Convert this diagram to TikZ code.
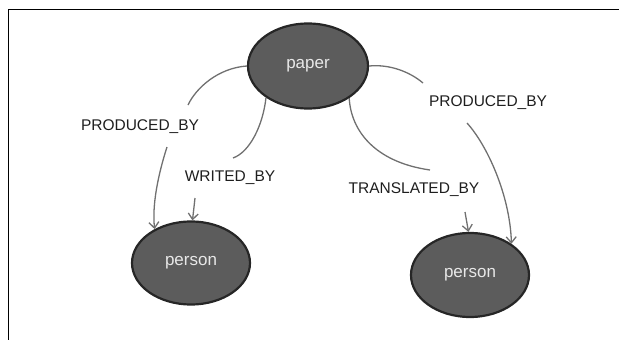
\documentclass[tikz,border=0pt]{standalone}
\usepackage{fontspec}
\setmainfont{Liberation Sans}
\usetikzlibrary{arrows.meta,shapes.geometric}

\definecolor{nodefill}{RGB}{92,92,92}
\definecolor{nodeline}{RGB}{38,38,38}
\definecolor{nodetext}{RGB}{232,232,232}
\definecolor{edgegray}{RGB}{112,112,112}
\definecolor{labeltext}{RGB}{30,30,30}

\tikzset{
    entity/.style={ellipse, fill=nodefill, draw=nodeline, line width=2.2pt,
        text=nodetext, font=\fontsize{17}{20}\selectfont,
        minimum width=118pt, minimum height=83pt, inner sep=0pt},
    relname/.style={text=labeltext, font=\fontsize{15.5}{18}\selectfont, inner sep=1pt},
    edge/.style={draw=edgegray, line width=1.3pt},
    arrowedge/.style={edge, -{Straight Barb[length=6pt,width=10pt]}}
}

\begin{document}
\begin{tikzpicture}[x=1pt, y=-1pt]
                    % Picture area and frame lines
                    \useasboundingbox (0,0) rectangle (619,340);
                    \draw[line width=1.5pt, black] (619,9.5) -| (8.7,340);

                    % Entities
                    \node[entity, minimum width=120pt, minimum height=85pt] (paper) at (308,66) {paper};
                    \node[entity] (personL) at (191,263) {person};
                    \node[entity, minimum height=84pt] (personR) at (470,275) {person};

                    % Relation labels
                    \node[relname] (producedL) at (140,127) {PRODUCED\_BY};
                    \node[relname] (writed) at (230,178) {WRITED\_BY};
                    \node[relname] (translated) at (414,190) {TRANSLATED\_BY};
                    \node[relname] (producedR) at (488,103) {PRODUCED\_BY};

                    % Ends of the edges next to the labels
                    \coordinate (producedLin) at (188,105);
                    \coordinate (producedLout) at (167,147);
                    \coordinate (writedin) at (233,158);
                    \coordinate (writedout) at (195,198);
                    \coordinate (translatedin) at (430,170);
                    \coordinate (translatedout) at (465,212);
                    \coordinate (producedRin) at (423,83);
                    \coordinate (producedRout) at (467,123);

                    % Edge paper -> left person (PRODUCED_BY)
                    \draw[edge] (paper.180) .. controls (218,68) and (196,88) .. (producedLin);
                    \draw[arrowedge] (producedLout) .. controls (158,175) and (152,205) .. (personL.137);

                    % Edge paper -> left person (WRITED_BY)
                    \draw[edge] (paper.217) .. controls (263,125) and (250,152) .. (writedin);
                    \draw[arrowedge] (writedout) -- (personL.88);

                    % Edge paper -> right person (TRANSLATED_BY)
                    \draw[edge] (paper.322) .. controls (351,130) and (374,162) .. (translatedin);
                    \draw[arrowedge] (translatedout) -- (personR.92);

                    % Edge paper -> right person (PRODUCED_BY)
                    \draw[edge] (paper.0) .. controls (390,64) and (410,72) .. (producedRin);
                    \draw[arrowedge] (producedRout) .. controls (487,145) and (510,195) .. (personR.37);
\end{tikzpicture}
\end{document}
